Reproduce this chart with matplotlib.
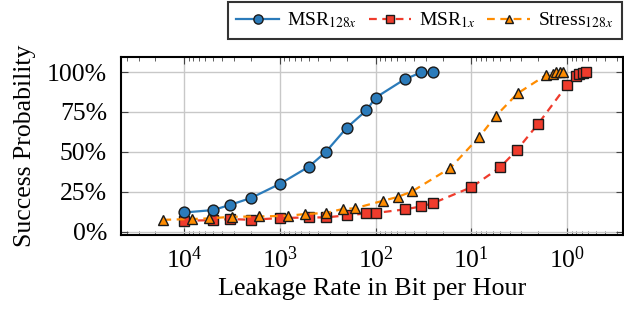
import matplotlib
matplotlib.use("Agg")
import matplotlib.pyplot as plt
from matplotlib.ticker import LogLocator, FixedLocator, FuncFormatter, NullFormatter

plt.rcParams['font.family'] = ['Liberation Serif', 'DejaVu Serif']
plt.rcParams['mathtext.fontset'] = 'stix'

# Data
msr128_x = [10000, 5000, 3333, 2000, 1000, 500, 333, 200, 125, 100, 50, 33.3, 25]
msr128_y = [12.1, 13.6, 16.8, 21.2, 30.0, 40.7, 49.9, 65.2, 76.0, 84.0, 95.4, 99.8, 99.8]

msr1_x = [10000, 5000, 3333, 2000, 1000, 500, 333, 200, 125, 100, 50, 33.3, 25,
          10, 5, 3.33, 2, 1, 0.81, 0.75, 0.69, 0.64]
msr1_y = [6.9, 7.3, 8.0, 7.5, 8.6, 9.0, 9.0, 10.3, 11.5, 11.8, 14.0, 15.9, 18.0,
          27.9, 40.4, 51.4, 67.7, 92.0, 97.6, 98.7, 99.5, 100.0]

stress128_x = [16500, 8300, 5500, 3200, 1650, 830, 550, 330, 220, 165, 83, 59, 41.6,
               16.6, 8.3, 5.6, 3.3, 1.67, 1.41, 1.30, 1.20, 1.11]
stress128_y = [7.5, 8.0, 8.4, 9.4, 9.6, 10.0, 11.1, 11.8, 14.3, 14.7, 19.5, 21.8, 25.3,
               40.0, 59.3, 72.3, 86.6, 98.0, 99.0, 99.7, 100.0, 100.0]

y_ticks = [0, 25, 50, 75, 100]

blue = '#2b7bba'
red = '#ef3b2c'
orange = '#ff8c00'

fig = plt.figure(figsize=(6.24, 3.15), dpi=100)
ax = fig.add_axes([121/624, 1-235/315, (623-121)/624, (235-57)/315])

ax.plot(msr128_x, msr128_y, '-', color=blue, lw=1.6, marker='o', ms=7.8,
        mfc=blue, mec='#1a1a1a', mew=1.0, label=r'MSR$_{128x}$', zorder=4)
ax.plot(msr1_x, msr1_y, '--', color=red, lw=1.6, dashes=(3.5, 2.5), marker='s', ms=7.6,
        mfc=red, mec='#1a1a1a', mew=1.0, label=r'MSR$_{1x}$', zorder=3)
ax.plot(stress128_x, stress128_y, '--', color=orange, lw=1.6, dashes=(3.5, 2.5), marker='^', ms=6.8,
        mfc=orange, mec='#1a1a1a', mew=1.0, label=r'Stress$_{128x}$', zorder=3)

ax.set_xscale('log')
ax.set_xlim(10**4.66, 10**-0.583)
ax.set_ylim(-2, 109.4)

ax.xaxis.set_major_locator(LogLocator(base=10, numticks=10))
ax.xaxis.set_minor_locator(LogLocator(base=10, subs=range(2, 10), numticks=20))
ax.xaxis.set_minor_formatter(NullFormatter())
ax.yaxis.set_major_locator(FixedLocator(y_ticks))
ax.yaxis.set_major_formatter(FuncFormatter(lambda v, p: f'{int(v)}%'))

ax.grid(True, which='major', color='#c8c8c8', lw=1.0)
ax.set_axisbelow(True)
ax.tick_params(which='both', direction='in', top=True, right=True, labelsize=18.5, color='#444444')
ax.tick_params(which='major', length=5, width=0.8)
ax.tick_params(which='minor', length=3, width=0.6)
ax.tick_params(axis='x', pad=8)
ax.tick_params(axis='y', pad=10)
for s in ax.spines.values():
    s.set_linewidth(1.5)
    s.set_color('black')

ax.set_xlabel('Leakage Rate in Bit per Hour', fontsize=18.8, labelpad=4)
ax.set_ylabel('Success Probability', fontsize=18.5, labelpad=8)

leg = fig.legend(loc='upper right', bbox_to_anchor=(1.0, 1.0), ncol=3, fontsize=14,
                 frameon=True, fancybox=False, edgecolor='black', borderaxespad=0.1,
                 handlelength=2.2, columnspacing=0.6, handletextpad=0.4,
                 borderpad=0.45, markerscale=0.85)
leg.get_frame().set_linewidth(1.5)

fig.savefig('out.png', dpi=100)
